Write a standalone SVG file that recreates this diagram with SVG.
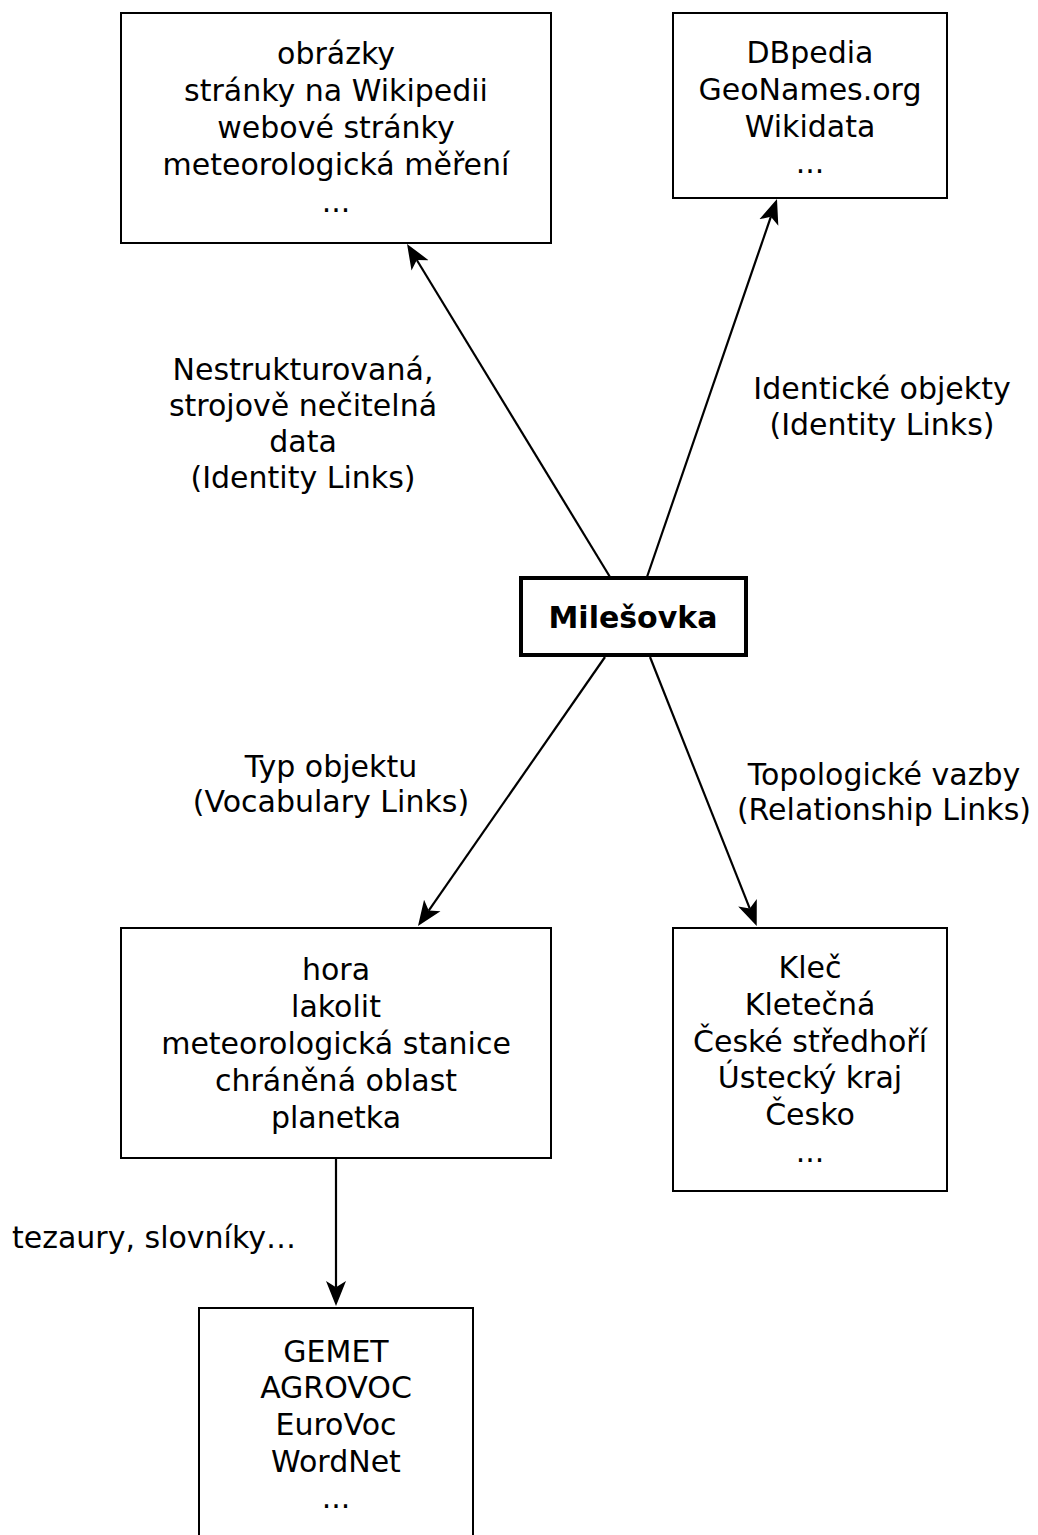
<svg xmlns="http://www.w3.org/2000/svg" width="1038" height="1535" viewBox="0 0 1038 1535">
  <style>
    .box { fill: #ffffff; stroke: #000000; stroke-width: 2; }
    .main { fill: #ffffff; stroke: #000000; stroke-width: 4; }
    text { font-family: "DejaVu Sans", Verdana, sans-serif; font-size: 30px; fill: #000000; }
    .c { text-anchor: middle; }
    .b { font-weight: bold; }
    .edge { fill: none; stroke: #000000; stroke-width: 2.2; }
  </style>
  <defs>
    <!-- classic notched arrowhead; refX sits on the notch so the line ends inside the head -->
    <marker id="arrow" markerUnits="userSpaceOnUse" viewBox="0 -12 26 24" refX="6.25" refY="0" markerWidth="26" markerHeight="24" orient="auto">
      <path d="M25,0 L0,-10 L6.25,0 L0,10 Z" fill="#000000"/>
    </marker>
  </defs>

  <!-- connectors -->
  <g id="edges">
    <line class="edge" x1="610" y1="577" x2="416.8" y2="260.0" marker-end="url(#arrow)"/>
    <line class="edge" x1="647" y1="577" x2="770.9" y2="216.7" marker-end="url(#arrow)"/>
    <line class="edge" x1="605" y1="657" x2="428.7" y2="910.6" marker-end="url(#arrow)"/>
    <line class="edge" x1="650" y1="657" x2="749.8" y2="908.6" marker-end="url(#arrow)"/>
    <line class="edge" x1="336" y1="1159" x2="336" y2="1287.3" marker-end="url(#arrow)"/>
  </g>

  <!-- edge labels -->
  <g id="edge-labels">
    <text class="c" x="303" y="380">Nestrukturovaná,</text>
    <text class="c" x="303" y="416">strojově nečitelná</text>
    <text class="c" x="303" y="452">data</text>
    <text class="c" x="303" y="488">(Identity Links)</text>
    <text class="c" x="882" y="399">Identické objekty</text>
    <text class="c" x="882" y="435">(Identity Links)</text>
    <text class="c" x="331" y="777">Typ objektu</text>
    <text class="c" x="331" y="812">(Vocabulary Links)</text>
    <text class="c" x="884" y="785">Topologické vazby</text>
    <text class="c" x="884" y="820">(Relationship Links)</text>
    <text x="12" y="1248">tezaury, slovníky…</text>
  </g>

  <g id="node-unstructured">
    <rect class="box" x="121" y="13" width="430" height="230"/>
    <text class="c" x="336" y="64">obrázky</text>
    <text class="c" x="336" y="101">stránky na Wikipedii</text>
    <text class="c" x="336" y="138">webové stránky</text>
    <text class="c" x="336" y="175">meteorologická měření</text>
    <text class="c" x="336" y="212">...</text>
  </g>

  <g id="node-identity">
    <rect class="box" x="673" y="13" width="274" height="185"/>
    <text class="c" x="810" y="63">DBpedia</text>
    <text class="c" x="810" y="100">GeoNames.org</text>
    <text class="c" x="810" y="137">Wikidata</text>
    <text class="c" x="810" y="173">...</text>
  </g>

  <g id="node-milesovka">
    <rect class="main" x="521" y="578" width="225" height="77"/>
    <text class="c b" x="633" y="628">Milešovka</text>
  </g>

  <g id="node-types">
    <rect class="box" x="121" y="928" width="430" height="230"/>
    <text class="c" x="336" y="980">hora</text>
    <text class="c" x="336" y="1017">lakolit</text>
    <text class="c" x="336" y="1054">meteorologická stanice</text>
    <text class="c" x="336" y="1091">chráněná oblast</text>
    <text class="c" x="336" y="1128">planetka</text>
  </g>

  <g id="node-topology">
    <rect class="box" x="673" y="928" width="274" height="263"/>
    <text class="c" x="810" y="978">Kleč</text>
    <text class="c" x="810" y="1015">Kletečná</text>
    <text class="c" x="810" y="1052">České středhoří</text>
    <text class="c" x="810" y="1088">Ústecký kraj</text>
    <text class="c" x="810" y="1125">Česko</text>
    <text class="c" x="810" y="1162">...</text>
  </g>

  <g id="node-thesauri">
    <rect class="box" x="199" y="1308" width="274" height="263"/>
    <text class="c" x="336" y="1362">GEMET</text>
    <text class="c" x="336" y="1398">AGROVOC</text>
    <text class="c" x="336" y="1435">EuroVoc</text>
    <text class="c" x="336" y="1472">WordNet</text>
    <text class="c" x="336" y="1508">...</text>
  </g>
</svg>
